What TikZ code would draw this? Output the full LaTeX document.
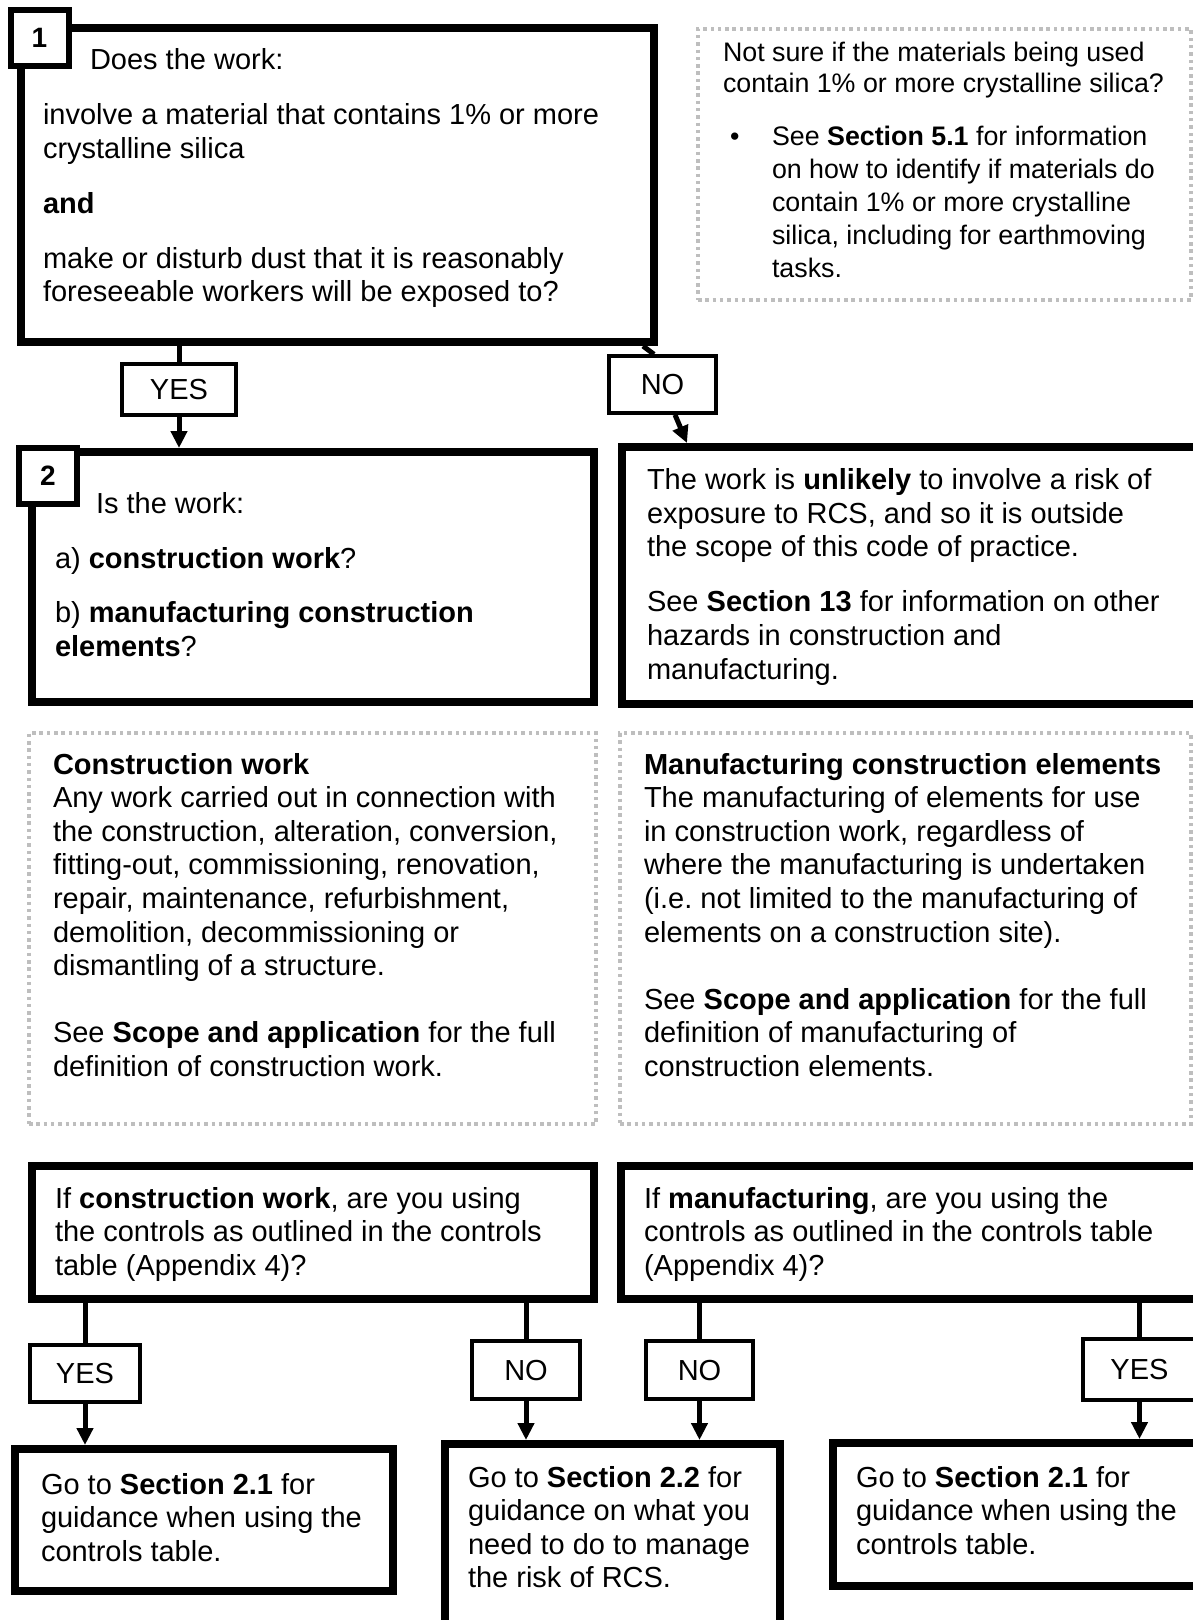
\documentclass[tikz,border=0pt]{standalone}
\usepackage{fontspec}
\setmainfont{Liberation Sans}
\usetikzlibrary{arrows.meta}
\definecolor{dotgray}{RGB}{190,190,190}
\tikzset{
  mainbox/.style={draw, line width=8pt, rectangle, inner sep=0pt},
  lblbox/.style={draw, line width=6pt, fill=white, inner sep=0pt, font=\fontsize{28}{30}\selectfont\bfseries, minimum width=58pt, minimum height=56pt},
  ansbox/.style={draw, line width=3.5pt, fill=white, inner sep=0pt, font=\fontsize{29}{33.6}\selectfont},
  dotbox/.style={draw=dotgray, line width=3.5pt, dash pattern=on 3.5pt off 3.8pt, inner sep=0pt},
  txt/.style={inner sep=0pt, outer sep=0pt, anchor=north west, align=left, font=\fontsize{29}{33.6}\selectfont\frenchspacing},
  smalltxt/.style={txt, font=\fontsize{26.8}{33}\selectfont\frenchspacing},
  conn/.style={line width=5pt},
  arr/.style={line width=5pt, -{Triangle[width=16pt,length=17pt]}},
}
\begin{document}
\begin{tikzpicture}[x=1pt,y=-1pt]
\useasboundingbox (0,0) rectangle (1193,1620);
\clip (0,0) rectangle (1193,1620);

% ---- boxes
\node[mainbox, minimum width=633.5pt, minimum height=314.5pt] (b1) at (337.25,184.75) {};
\node[lblbox] (l1) at (39.5,37.5) {1};
\node[dotbox, minimum width=493pt, minimum height=271pt] (d0) at (944.5,164.5) {};

\node[ansbox, minimum width=114pt, minimum height=51pt] (Y1) at (179,389.5) {YES};
\node[ansbox, minimum width=107pt, minimum height=57pt] (N1) at (662.5,384.5) {NO};

\node[mainbox, minimum width=562pt, minimum height=250pt] (b2) at (313,577) {};
\node[lblbox] (l2) at (48,475.5) {2};
\node[mainbox, minimum width=578pt, minimum height=257pt] (b3) at (911,575.5) {};

\node[dotbox, minimum width=567pt, minimum height=391pt] (d4) at (312.5,928.5) {};
\node[dotbox, minimum width=571pt, minimum height=391pt] (d5) at (905.5,928.5) {};

\node[mainbox, minimum width=562pt, minimum height=133pt] (b6) at (313,1232.5) {};
\node[mainbox, minimum width=579pt, minimum height=133pt] (b7) at (910.5,1232.5) {};

\node[ansbox, minimum width=110pt, minimum height=57pt] (Y2) at (85,1373.5) {YES};
\node[ansbox, minimum width=108pt, minimum height=58pt] (N2) at (526,1370) {NO};
\node[ansbox, minimum width=107pt, minimum height=58pt] (N3) at (699.5,1370) {NO};
\node[ansbox, minimum width=113pt, minimum height=61pt] (Y3) at (1139.5,1369.5) {YES};

\node[mainbox, minimum width=378pt, minimum height=142pt] (b8) at (204,1520) {};
\node[mainbox, minimum width=335pt, minimum height=206pt] (b9) at (612.5,1547) {};
\node[mainbox, minimum width=367pt, minimum height=143pt] (b10) at (1016.5,1514.5) {};

% ---- connectors
\coordinate (c1) at (643,0);
\coordinate (c2) at (654,0);
\coordinate (c3) at (675,0);
\coordinate (c4) at (687,0);
\draw[conn] (b1.south -| Y1.north) -- (Y1.north);
\draw[arr] (Y1.south) -- (Y1.south |- b2.north);
\draw[conn] (b1.south -| c1) -- (N1.north -| c2);
\draw[arr] (N1.south -| c3) -- (b3.north -| c4);

\draw[conn] (b6.south -| Y2.north) -- (Y2.north);
\draw[arr] (Y2.south) -- (Y2.south |- b8.north);
\draw[conn] (b6.south -| N2.north) -- (N2.north);
\draw[arr] (N2.south) -- (N2.south |- b9.north);
\draw[conn] (b7.south -| N3.north) -- (N3.north);
\draw[arr] (N3.south) -- (N3.south |- b9.north);
\draw[conn] (b7.south -| Y3.north) -- (Y3.north);
\draw[arr] (Y3.south) -- (Y3.south |- b10.north);

% ---- texts
\node[txt] (t1a) at (90,46) {\strut Does the work:};
\node[txt] (t1b) at (43,101) {\strut involve a material that contains 1\% or more\\ crystalline silica\\[21.5pt]\textbf{and}\\[21.5pt]make or disturb dust that it is reasonably\\ foreseeable workers will be exposed to?};

\node[smalltxt, font=\fontsize{26.8}{31}\selectfont\frenchspacing] (t0a) at (723,40) {\strut Not sure if the materials being used\\ contain 1\% or more crystalline silica?};
\node[smalltxt] (bul) at (730,122.5) {\strut\textbullet};
\node[smalltxt] (t0b) at (772,122.5) {\strut See \textbf{Section 5.1} for information\\ on how to identify if materials do\\ contain 1\% or more crystalline\\ silica, including for earthmoving\\ tasks.};

\node[txt] (t2a) at (96,490) {\strut Is the work:};
\node[txt] (t2b) at (55,545) {\strut a) \textbf{construction work}?\\[20.5pt]b) \textbf{manufacturing construction}\\ \textbf{elements}?};

\node[txt] (t3) at (647,466) {\strut The work is \textbf{unlikely} to involve a risk of\\ exposure to RCS, and so it is outside\\ the scope of this code of practice.\\[21.5pt]See \textbf{Section 13} for information on other\\ hazards in construction and\\ manufacturing.};

\node[txt] (t4) at (53,750.5) {\strut\textbf{Construction work}\\ Any work carried out in connection with\\ the construction, alteration, conversion,\\ fitting-out, commissioning, renovation,\\ repair, maintenance, refurbishment,\\ demolition, decommissioning or\\ dismantling of a structure.\\[33.6pt]See \textbf{Scope and application} for the full\\ definition of construction work.};

\node[txt] (t5) at (644,750.5) {\strut\textbf{Manufacturing construction elements}\\ The manufacturing of elements for use\\ in construction work, regardless of\\ where the manufacturing is undertaken\\ (i.e. not limited to the manufacturing of\\ elements on a construction site).\\[33.6pt]See \textbf{Scope and application} for the full\\ definition of manufacturing of\\ construction elements.};

\node[txt] (t6) at (55,1184.5) {\strut If \textbf{construction work}, are you using\\ the controls as outlined in the controls\\ table (Appendix 4)?};
\node[txt] (t7) at (644,1184.5) {\strut If \textbf{manufacturing}, are you using the\\ controls as outlined in the controls table\\ (Appendix 4)?};

\node[txt] (t8) at (41,1470.5) {\strut Go to \textbf{Section 2.1} for\\ guidance when using the\\ controls table.};
\node[txt] (t9) at (468,1463.5) {\strut Go to \textbf{Section 2.2} for\\ guidance on what you\\ need to do to manage\\ the risk of RCS.};
\node[txt] (t10) at (856,1463.5) {\strut Go to \textbf{Section 2.1} for\\ guidance when using the\\ controls table.};
\end{tikzpicture}
\end{document}
